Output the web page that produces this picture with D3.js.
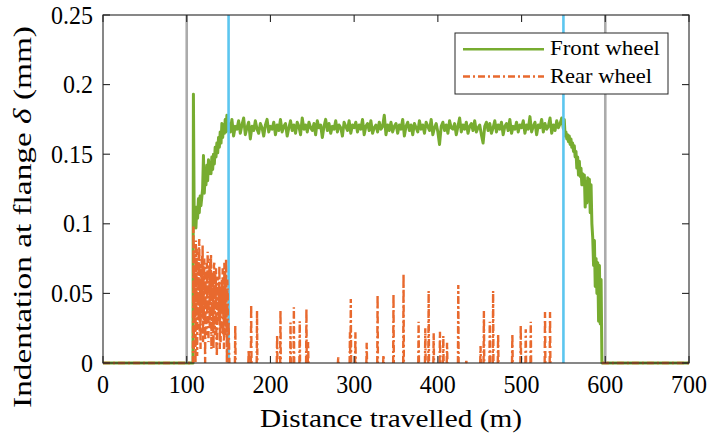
<!DOCTYPE html>
<html><head><meta charset="utf-8">
<script src="https://cdn.jsdelivr.net/npm/d3@7/dist/d3.min.js"></script>
<style>body{margin:0;background:#fff}svg{display:block}</style>
</head><body><svg id="c" width="710" height="437"></svg>
<script>
// ---- data ----
const xTicks = [0,100,200,300,400,500,600,700];
const yTicks = [0,0.05,0.1,0.15,0.2,0.25];
const yTickLabels = ["0","0.05","0.1","0.15","0.2","0.25"];
const markerLines = [{d:100,kind:"gray"},{d:150,kind:"blue"},{d:550,kind:"blue"},{d:600,kind:"gray"}];
const seriesNames = ["Front wheel","Rear wheel"];

// front wheel: start, rise, plateau (2 m sampling), decline
const frontStart = [[0,0],[107.5,0]];
const frontRise = [[108,0.193],[109,0.098],[110,0.105],[111,0.097],[112,0.112],[113,0.104],[114,0.118],[115,0.108],[116,0.12],[117,0.113],[118,0.119],[119,0.125],[120,0.149],[121,0.122],[122,0.135],[123,0.128],[124,0.142],[125,0.131],[126,0.146],[127,0.136],[128,0.142],[129,0.136],[130,0.148],[131,0.139],[132,0.150],[133,0.143],[134,0.155],[135,0.148],[136,0.158],[137,0.151],[138,0.162],[139,0.155],[140,0.166],[141,0.158],[142,0.172],[143,0.162],[144,0.171],[145,0.165],[146,0.175],[147,0.166],[148,0.178],[149,0.167]];
const frontPlateauStart = 150, frontPlateauStep = 2;
const frontPlateau = [
0.172,0.166,0.175,0.163,0.170,0.168,0.174,0.165,0.171,0.176,0.164,0.169,0.173,0.161,0.170,0.167,0.174,0.168,0.165,0.172,0.169,0.163,0.171,0.175,0.166,
0.170,0.168,0.173,0.164,0.171,0.167,0.175,0.166,0.170,0.172,0.163,0.169,0.174,0.167,0.171,0.165,0.173,0.170,0.164,0.176,0.168,0.171,0.166,0.173,0.169,
0.167,0.172,0.164,0.174,0.169,0.171,0.162,0.170,0.175,0.167,0.172,0.165,0.170,0.168,0.174,0.166,0.171,0.169,0.163,0.173,0.170,0.167,0.174,0.165,0.171,
0.169,0.173,0.166,0.171,0.168,0.175,0.164,0.170,0.172,0.167,0.174,0.165,0.169,0.171,0.166,0.173,0.168,0.170,0.178,0.164,0.171,0.167,0.173,0.166,0.170,
0.172,0.165,0.171,0.168,0.175,0.163,0.170,0.173,0.167,0.171,0.164,0.172,0.169,0.166,0.174,0.168,0.171,0.165,0.173,0.170,0.167,0.175,0.164,0.169,0.172,
0.166,0.157,0.170,0.173,0.167,0.171,0.165,0.174,0.169,0.168,0.172,0.164,0.170,0.176,0.166,0.171,0.168,0.173,0.165,0.170,0.172,0.167,0.174,0.166,0.169,
0.171,0.164,0.158,0.170,0.173,0.167,0.172,0.165,0.169,0.174,0.166,0.171,0.168,0.173,0.164,0.170,0.172,0.167,0.175,0.165,0.170,0.168,0.173,0.166,0.171,
0.169,0.174,0.165,0.171,0.168,0.177,0.166,0.170,0.173,0.164,0.171,0.169,0.175,0.166,0.172,0.168,0.170,0.176,0.165,0.171,0.167,0.174,0.169,0.172,0.176,
0.168];
const frontDecline = [[551,0.175],[552,0.163],[553,0.166],[554,0.161],[555,0.164],[556,0.159],[557,0.163],[558,0.157],[559,0.161],[560,0.155],[561,0.158],[562,0.152],[563,0.156],[564,0.148],[565,0.152],[566,0.14],[567,0.148],[568,0.135],[569,0.145],[570,0.134],[571,0.14],[572,0.128],[573,0.136],[574,0.128],[575,0.135],[576,0.112],[577,0.13],[578,0.115],[579,0.133],[580,0.118],[581,0.132],[582,0.108],[583,0.128],[584,0.1],[585,0.09],[586,0.07],[587,0.088],[588,0.055],[589,0.075],[590,0.05],[591,0.072],[592,0.03],[593,0.07],[594,0.028],[595,0.06],[596,0],[700,0]];

// rear wheel: baseline, dense zone, isolated peaks, baseline
const rearStart = [[0,0],[107.5,0]];
const rearDense = [[108,0.098],[108.5,0.01],[109,0.085],[109.5,0.03],[110,0.07],[110.5,0.0],[111,0.088],[111.5,0.04],[112,0.082],[112.5,0.005],[113,0.075],[113.5,0.05],[114,0.03],[114.5,0.08],[115,0.089],[115.5,0.02],[116,0.06],[116.5,0.01],[117,0.07],[117.5,0.035],[118,0.078],[118.5,0.04],[119,0.085],[119.5,0.015],[120,0.07],[120.5,0.03],[121,0.075],[121.5,0.045],[122,0.0],[122.5,0.06],[123,0.065],[123.5,0.02],[124,0.072],[124.5,0.035],[125,0.08],[125.5,0.05],[126,0.015],[126.5,0.066],[127,0.07],[127.5,0.025],[128,0.075],[128.5,0.045],[129,0.078],[129.5,0.01],[130,0.06],[130.5,0.03],[131,0.065],[131.5,0.04],[132,0.01],[132.5,0.07],[133,0.072],[133.5,0.02],[134,0.064],[134.5,0.04],[135,0.068],[135.5,0.015],[136,0.005],[136.5,0.06],[137,0.062],[137.5,0.03],[138,0.055],[138.5,0.03],[139,0.07],[139.5,0.01],[140,0.05],[140.5,0.015],[141,0.055],[141.5,0.035],[142,0.06],[142.5,0.04],[143,0.068],[143.5,0.02],[144,0.05],[144.5,0.01],[145,0.072],[145.5,0.03],[146,0.065],[146.5,0.02],[147,0.075],[147.5,0.04],[148,0.0],[148.5,0.06],[149,0.05],[149.5,0.01],[150,0.03],[151,0.0]];
const rearPeakDist = [158,174,177,184,208,212,224,228,235,243,245,281,295,296,301.5,315,328,335,347,359,377,385,389,395,402.5,406.5,411,424.4,434,451,455,462,466,472,489,499,505,511,528,534];
const rearPeakVal  = [0.027,0.009,0.042,0.0376,0.020,0.038,0.029,0.040,0.030,0.039,0.015,0.004,0.022,0.046,0.022,0.0146,0.049,0.0057,0.0496,0.064,0.0297,0.025,0.0517,0.0215,0.0225,0.0194,0.0146,0.056,0.0014,0.0122,0.0373,0.0297,0.0517,0.0208,0.0208,0.027,0.0242,0.0297,0.0366,0.0366];
const rearEnd = [[596,0],[700,0]];

// ---- build ----
const FONT = "Times New Roman, serif";
const svg = d3.select("#c");
const L=103, R=689, T=15, B=363;
const x = d3.scaleLinear().domain([0,700]).range([L,R]);
const y = d3.scaleLinear().domain([0,0.25]).range([B,T]);

const front = [...frontStart, ...frontRise,
  ...frontPlateau.map((v,i)=>[frontPlateauStart+i*frontPlateauStep, v]), ...frontDecline];
const rear = [...rearStart, ...rearDense, null];
rearPeakDist.forEach((d,i)=>{ rear.push([d-0.4,0],[d,rearPeakVal[i]],[d+0.4,0],null); });
rear.push(...rearEnd);

const line = d3.line().defined(p=>p!==null).x(p=>x(p[0])).y(p=>y(p[1]));
const GREEN="#77ac30", ORANGE="#e8692e", BLUE="#5cc6ef", GRAY="#ababab";

svg.append("clipPath").attr("id","pc").append("rect").attr("x",L).attr("y",T-2).attr("width",R-L).attr("height",B-T+4);
const g = svg.append("g").attr("clip-path","url(#pc)");
g.append("path").attr("d",line(front)).attr("fill","none").attr("stroke",GREEN).attr("stroke-width",3).attr("stroke-linejoin","round");
g.selectAll("line.mk").data(markerLines).join("line").attr("class","mk")
  .attr("x1",d=>x(d.d)).attr("x2",d=>x(d.d)).attr("y1",T).attr("y2",B)
  .attr("stroke",d=>d.kind==="blue"?BLUE:GRAY).attr("stroke-width",2.6);
g.append("path").attr("d",line(rear)).attr("fill","none").attr("stroke",ORANGE).attr("stroke-width",2.4)
  .attr("stroke-dasharray","7,3,2,3");

// axes box
const ax = svg.append("g").attr("stroke","#262626").attr("stroke-width",1.1).attr("fill","none");
ax.append("rect").attr("x",L).attr("y",T).attr("width",R-L).attr("height",B-T);
xTicks.forEach(t=>{ ax.append("line").attr("x1",x(t)).attr("x2",x(t)).attr("y1",B).attr("y2",B-7);
  ax.append("line").attr("x1",x(t)).attr("x2",x(t)).attr("y1",T).attr("y2",T+7); });
yTicks.forEach(t=>{ ax.append("line").attr("x1",L).attr("x2",L+7).attr("y1",y(t)).attr("y2",y(t));
  ax.append("line").attr("x1",R).attr("x2",R-7).attr("y1",y(t)).attr("y2",y(t)); });

// text rendered at 20px and scaled to the reference proportions
function label(parent, o){
  const gg = parent.append("g");
  const t = gg.append("text").attr("font-family",FONT).attr("font-size",20).attr("fill","#000")
    .attr("text-anchor",o.anchor||"start");
  if (o.parts) o.parts.forEach(p=>{ const s=t.append("tspan").text(p.t); if(p.it) s.attr("font-style","italic"); });
  else t.text(o.text);
  let sx = o.sx||1;
  if (o.width) sx = o.width / t.node().getComputedTextLength();
  gg.attr("transform",`translate(${o.x},${o.y}) rotate(${o.rot||0}) scale(${sx},${o.sy||1})`);
  return gg;
}
const tl = svg.append("g");
xTicks.forEach(t=>label(tl,{x:x(t),y:393,anchor:"middle",text:String(t),sx:1.2,sy:1.28}));
yTicks.forEach((t,i)=>label(tl,{x:93,y:y(t)+8.5,anchor:"end",text:yTickLabels[i],sx:1.2,sy:1.28}));
label(tl,{x:391,y:427,anchor:"middle",text:"Distance travelled (m)",width:262,sy:1.3});
label(tl,{x:31,y:217,rot:-90,anchor:"middle",width:382,sy:1.3,
  parts:[{t:"Indentation at flange "},{t:"δ",it:true},{t:" (mm)"}]});

// legend
const lg = svg.append("g");
lg.append("rect").attr("x",455).attr("y",33).attr("width",213).attr("height",61).attr("fill","#fff").attr("stroke","#262626").attr("stroke-width",1);
const items = [{name:seriesNames[0],c:GREEN,dash:null,yy:49.3,w:110},{name:seriesNames[1],c:ORANGE,dash:"7,3,2,3",yy:76.5,w:102}];
items.forEach(it=>{
  lg.append("line").attr("x1",463).attr("x2",544).attr("y1",it.yy).attr("y2",it.yy).attr("stroke",it.c).attr("stroke-width",2.4).attr("stroke-dasharray",it.dash);
  label(lg,{x:550,y:it.yy+6,text:it.name,width:it.w,sy:1.02});
});
</script></body></html>
